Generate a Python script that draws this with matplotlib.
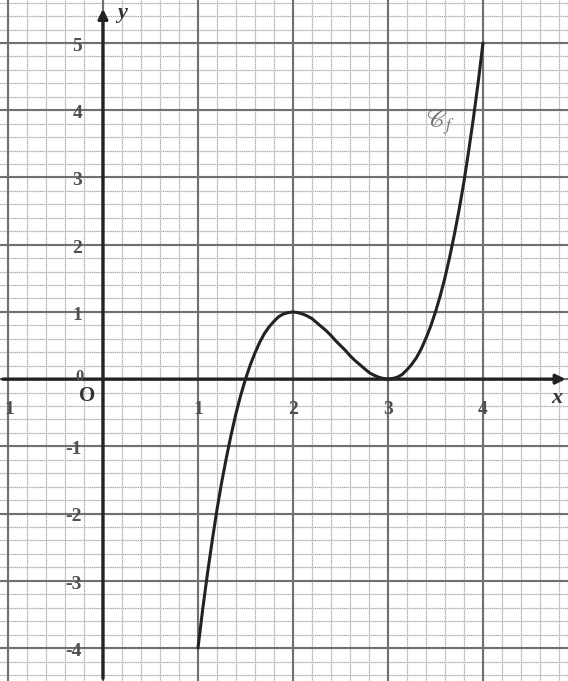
import numpy as np
import matplotlib.pyplot as plt

# points lus sur la courbe Cf (pas de 0,05)
x_pts = [1.00, 1.05, 1.10, 1.15, 1.20, 1.25, 1.30, 1.35, 1.40, 1.45,
         1.50, 1.55, 1.60, 1.65, 1.70, 1.75, 1.80, 1.85, 1.90, 1.95,
         2.00, 2.05, 2.10, 2.15, 2.20, 2.25, 2.30, 2.35, 2.40, 2.45,
         2.50, 2.55, 2.60, 2.65, 2.70, 2.75, 2.80, 2.85, 2.90, 2.95,
         3.00, 3.05, 3.10, 3.15, 3.20, 3.25, 3.30, 3.35, 3.40, 3.45,
         3.50, 3.55, 3.60, 3.65, 3.70, 3.75, 3.80, 3.85, 3.90, 3.95,
         4.00]
y_pts = [-4.00, -3.42, -2.89, -2.40, -1.94, -1.53, -1.16, -0.82, -0.51, -0.24,
         0.00, 0.21, 0.39, 0.55, 0.68, 0.78, 0.86, 0.93, 0.97, 0.99,
         1.00, 0.99, 0.97, 0.94, 0.90, 0.84, 0.78, 0.72, 0.65, 0.57,
         0.50, 0.43, 0.35, 0.28, 0.22, 0.16, 0.10, 0.06, 0.03, 0.01,
         0.00, 0.01, 0.03, 0.07, 0.14, 0.22, 0.32, 0.45, 0.61, 0.79,
         1.00, 1.24, 1.51, 1.82, 2.16, 2.53, 2.94, 3.40, 3.89, 4.42,
         5.00]

x_ticks = [1, 2, 3, 4]
x_labels = ["1", "2", "3", "4"]
y_ticks = [5, 4, 3, 2, 1, -1, -2, -3, -4]
y_labels = ["5", "4", "3", "2", "1", "-1", "-2", "-3", "-4"]

x_min, x_max = -1.084, 4.895
y_min, y_max = -4.49, 5.64

fig = plt.figure(figsize=(5.68, 6.81), dpi=100)
ax = fig.add_axes([0, 0, 1, 1])
ax.set_xlim(x_min, x_max)
ax.set_ylim(y_min, y_max)
ax.axis('off')

serif = 'Liberation Serif'
lab_col = '#505050'

# papier millimétré : lignes tous les 0,2
minor = np.arange(-1.0, 5.0, 0.2)
for v in minor:
    ax.axvline(v, color='#dddddd', lw=1.0, zorder=1)
    ax.axvline(v, color='#777777', lw=0.5, ls=(0, (1, 2)), zorder=1)
minor_y = np.arange(-4.4, 5.7, 0.2)
for v in minor_y:
    ax.axhline(v, color='#dddddd', lw=1.0, zorder=1)
    ax.axhline(v, color='#777777', lw=0.5, ls=(0, (1, 2)), zorder=1)

# lignes principales
for v in range(-1, 5):
    ax.axvline(v, color='#707070', lw=1.5, zorder=2)
for v in range(-4, 6):
    ax.axhline(v, color='#707070', lw=1.5, zorder=2)

# axes avec flèches
ax.annotate('', xy=(4.9, 0), xytext=(x_min, 0),
            arrowprops=dict(arrowstyle='-|>', color='#222222', lw=2.4,
                            mutation_scale=14), zorder=3)
ax.annotate('', xy=(0, 5.55), xytext=(0, y_min),
            arrowprops=dict(arrowstyle='-|>', color='#222222', lw=2.4,
                            mutation_scale=14), zorder=3)

# courbe
ax.plot(x_pts, y_pts, color='#222222', lw=2.2, zorder=4,
        solid_capstyle='round', solid_joinstyle='round')

# graduations
for t, s in zip(x_ticks, x_labels):
    ax.text(t, -0.45, s, ha='center', va='center', fontsize=14,
            family=serif, weight='bold', color=lab_col, zorder=5)
ax.text(-0.99, -0.45, "1", ha='center', va='center', fontsize=14,
        family=serif, weight='bold', color=lab_col, zorder=5)
for t, s in zip(y_ticks, y_labels):
    ax.text(-0.22, t - 0.05, s, ha='right', va='center', fontsize=14,
            family=serif, weight='bold', color=lab_col, zorder=5)
ax.text(-0.25, 0.03, "0", ha='center', va='center', fontsize=12,
        family=serif, weight='bold', color=lab_col, zorder=5)
ax.text(-0.17, -0.25, "O", ha='center', va='center', fontsize=15,
        family=serif, weight='bold', color='#333333', zorder=5)

ax.text(0.2, 5.45, "y", ha='center', va='center', fontsize=16,
        family=serif, style='italic', weight='bold', color='#333333', zorder=5)
ax.text(4.78, -0.28, "x", ha='center', va='center', fontsize=16,
        family=serif, style='italic', weight='bold', color='#333333', zorder=5)

plt.rcParams['mathtext.fontset'] = 'stix'
ax.text(3.55, 3.82, r'$\mathscr{C}_f$', ha='center', va='center',
        fontsize=18, color='#777777', zorder=5)

fig.savefig('out.png', dpi=100)
